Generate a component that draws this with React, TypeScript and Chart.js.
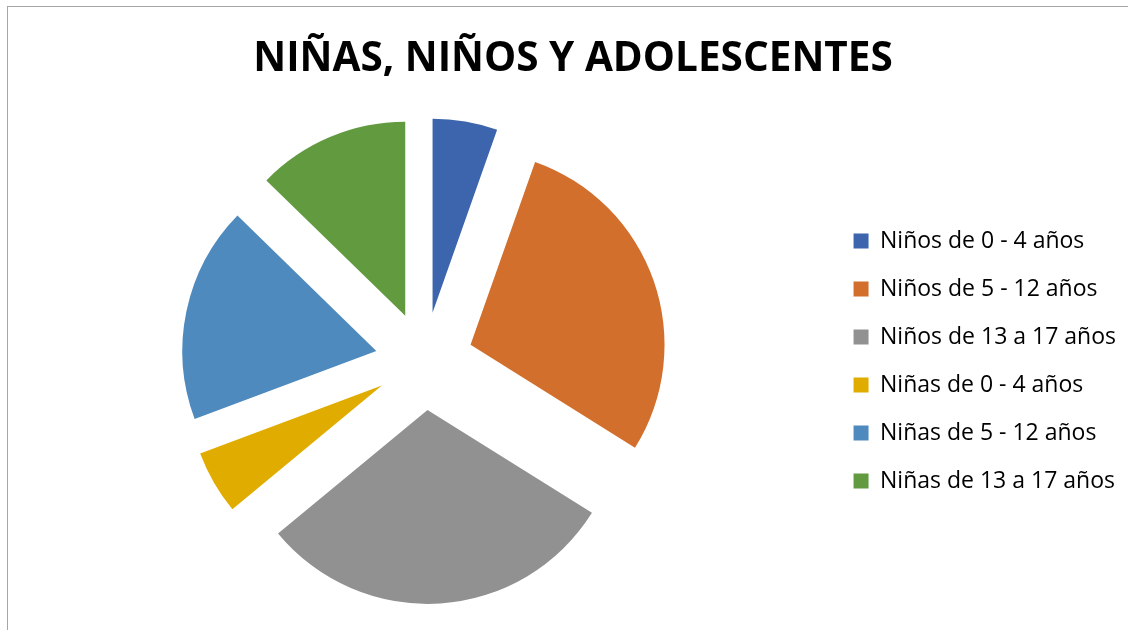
import React, { useEffect, useRef } from "react";
import { Chart, registerables, ArcElement, PieController } from "chart.js";

Chart.register(...registerables);

const titleText = "NIÑAS, NIÑOS Y ADOLESCENTES";
const categories = [
  "Niños de 0 - 4 años",
  "Niños de 5 - 12 años",
  "Niños de 13 a 17 años",
  "Niñas de 0 - 4 años",
  "Niñas de 5 - 12 años",
  "Niñas de 13 a 17 años",
];
const values = [5.4, 28.5, 30.1, 5.3, 18.0, 12.7];
const colors = ["#3D65AD", "#D36F2C", "#919191", "#E0AC00", "#4F8ABE", "#629A40"];

const EXPLODE = 49;

class ExplodedArc extends (ArcElement as any) {
  static id = "explodedArc";
  draw(ctx: CanvasRenderingContext2D) {
    const half = ((this as any).startAngle + (this as any).endAngle) / 2;
    ctx.save();
    ctx.translate(Math.cos(half) * EXPLODE, Math.sin(half) * EXPLODE);
    super.draw(ctx);
    ctx.restore();
  }
}

class ExplodedPieController extends (PieController as any) {
  static id = "explodedPie";
  static defaults = { dataElementType: "explodedArc" };
}

Chart.register(ExplodedArc as any, ExplodedPieController as any);

export default function App() {
  const ref = useRef<HTMLCanvasElement | null>(null);

  useEffect(() => {
    if (!ref.current) return;
    const chart = new Chart(ref.current, {
      type: "explodedPie" as any,
      data: {
        labels: categories,
        datasets: [
          {
            data: values,
            backgroundColor: colors,
            borderWidth: 0,
          },
        ],
      },
      options: {
        animation: false,
        responsive: false,
        radius: 194,
        layout: { padding: { left: 20, right: 2, top: 8, bottom: 0 } },
        plugins: {
          title: {
            display: true,
            text: titleText,
            color: "#000",
            font: { family: "'Open Sans'", size: 40.5, weight: "bold" },
            padding: { top: 27.5, bottom: 7.9 },
          },
          legend: {
            position: "right",
            align: "center",
            fullSize: false,
            labels: {
              color: "#000",
              font: { family: "'Open Sans'", size: 23 },
              boxWidth: 15,
              boxHeight: 15,
              padding: 25,
            },
          },
          tooltip: { enabled: false },
        },
      } as any,
    });
    return () => chart.destroy();
  }, []);

  return (
    <div style={{ position: "fixed", left: 0, top: 0, width: 1128, height: 630, background: "#fff" }}>
      <canvas ref={ref} width={1128} height={630} style={{ position: "absolute", left: 0, top: 0, display: "block" }} />
      <div
        style={{
          position: "absolute",
          left: 7,
          top: 6,
          width: 1121,
          height: 624,
          borderLeft: "1px solid #a6a6a6",
          borderTop: "1px solid #a6a6a6",
          boxSizing: "border-box",
          pointerEvents: "none",
        }}
      />
    </div>
  );
}
